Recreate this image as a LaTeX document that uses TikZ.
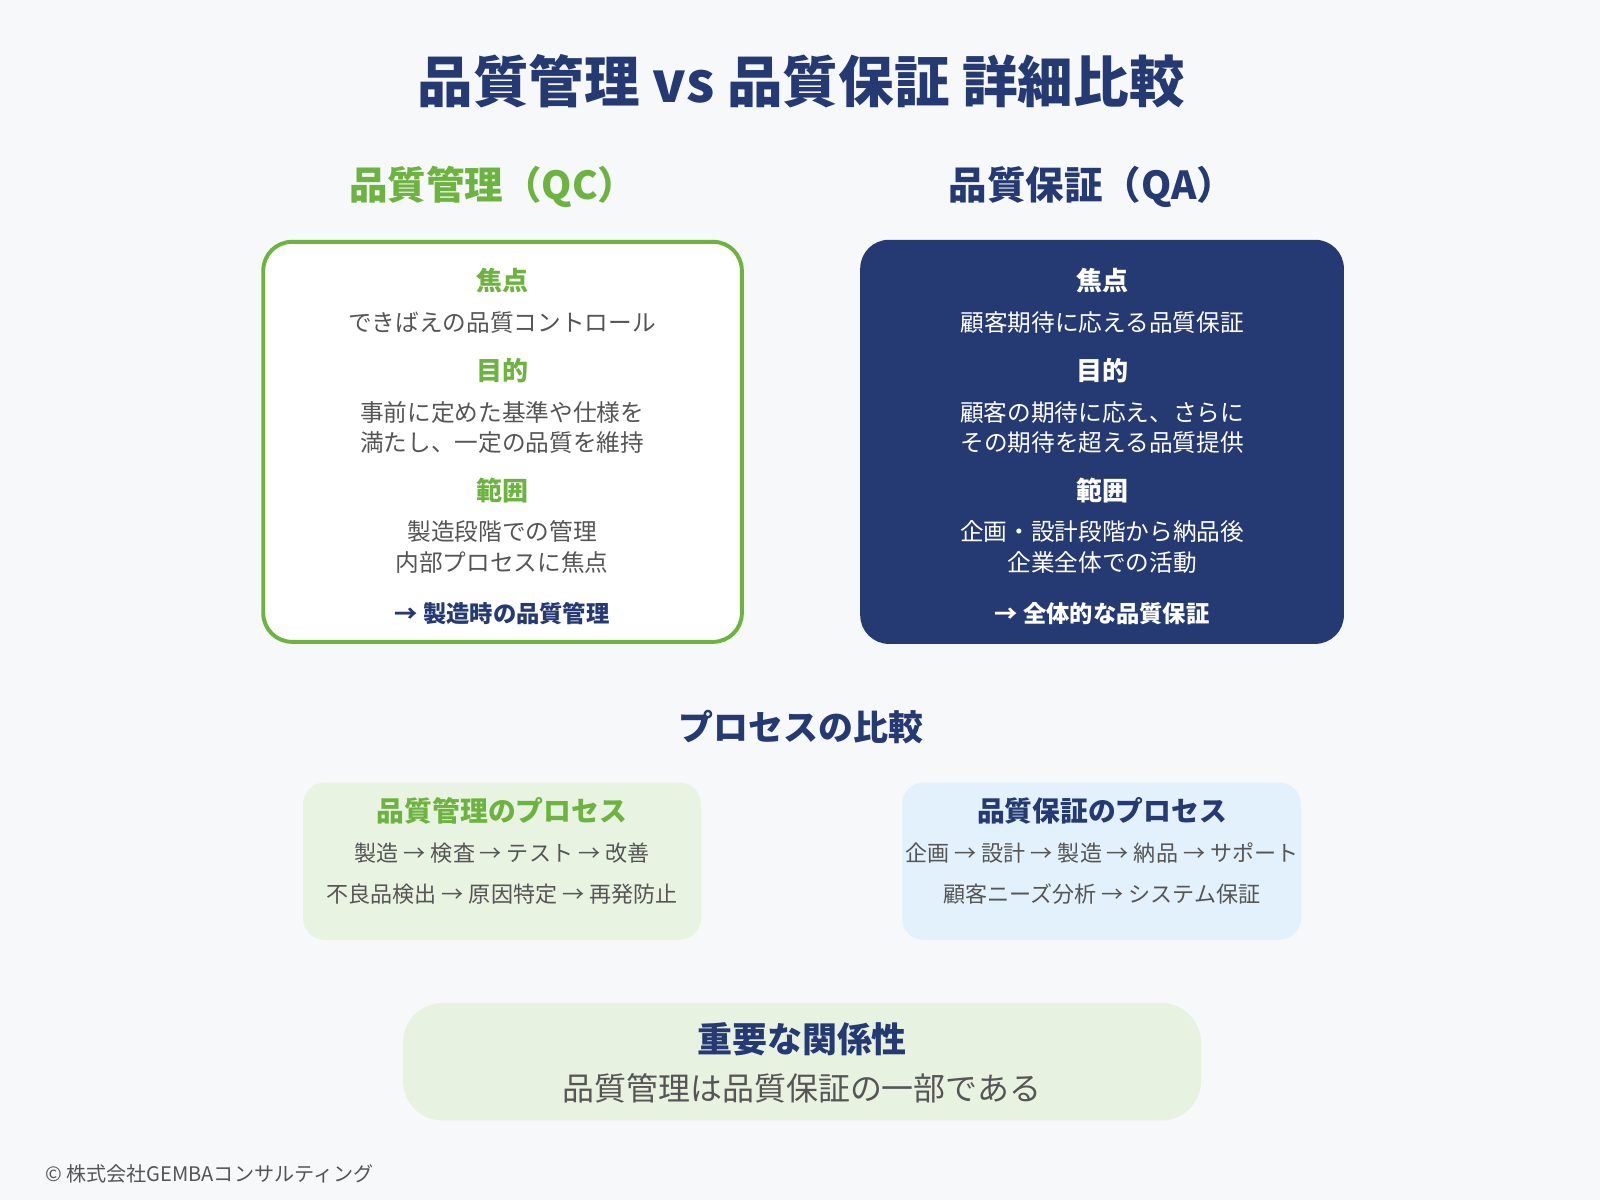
\documentclass[tikz,border=0pt]{standalone}
\usepackage{fontspec}
\setmainfont{Noto Sans CJK JP}
\definecolor{navy}{HTML}{253A73}
\definecolor{qcgreen}{HTML}{6DB33F}
\definecolor{txtgray}{HTML}{555555}
\definecolor{bg}{HTML}{F6F8FA}
\definecolor{lgreen}{HTML}{E8F3E2}
\definecolor{lblue}{HTML}{E2F1FB}
\definecolor{lrel}{HTML}{E8F2E1}
\begin{document}
\begin{tikzpicture}[x=0.02cm,y=-0.02cm,
  lbl/.style={font=\fontsize{14.5}{16}\selectfont\bfseries},
  body/.style={font=\fontsize{13.2}{17}\selectfont,text=txtgray,align=center},
  ptitle/.style={font=\fontsize{15.5}{18}\selectfont\bfseries},
  pline/.style={font=\fontsize{12.3}{14}\selectfont,text=txtgray}]
\fill[bg] (0,0) rectangle (1568,1176);
\useasboundingbox (0,0) rectangle (1568,1176);
\node[font=\fontsize{31}{34}\selectfont\bfseries,text=navy] (title) at (785,80) {品質管理 vs 品質保証 詳細比較};
\node[font=\fontsize{21.5}{24}\selectfont\bfseries,text=qcgreen] (qch) at (483,183) {品質管理（QC）};
\node[font=\fontsize{21.5}{24}\selectfont\bfseries,text=navy] (qah) at (1070,183) {品質保証（QA）};
% QC box
\draw[qcgreen,line width=2.2pt,fill=white,rounded corners=16pt] (258,237) rectangle (727,629);
\node[lbl,text=qcgreen] (qc1) at (492,275) {焦点};
\node[body] (qc2) at (492,316) {できばえの品質コントロール};
\node[lbl,text=qcgreen] (qc3) at (492,363) {目的};
\node[body] (qc4) at (492,419) {事前に定めた基準や仕様を\\満たし、一定の品質を維持};
\node[lbl,text=qcgreen] (qc5) at (492,481) {範囲};
\node[body] (qc6) at (492,536) {製造段階での管理\\内部プロセスに焦点};
\node[font=\fontsize{13}{15}\selectfont\bfseries,text=navy] (qc7) at (492,601) {→ 製造時の品質管理};
% QA box
\fill[navy,rounded corners=16pt] (843,235) rectangle (1317,631);
\node[lbl,text=white] (qa1) at (1080,275) {焦点};
\node[body,text=white] (qa2) at (1080,316) {顧客期待に応える品質保証};
\node[lbl,text=white] (qa3) at (1080,363) {目的};
\node[body,text=white] (qa4) at (1080,419) {顧客の期待に応え、さらに\\その期待を超える品質提供};
\node[lbl,text=white] (qa5) at (1080,481) {範囲};
\node[body,text=white] (qa6) at (1080,536) {企画・設計段階から納品後\\企業全体での活動};
\node[font=\fontsize{13}{15}\selectfont\bfseries,text=white] (qa7) at (1080,601) {→ 全体的な品質保証};
% process
\node[font=\fontsize{19.5}{22}\selectfont\bfseries,text=navy] (proc) at (785,713) {プロセスの比較};
\fill[lgreen,rounded corners=12pt] (297,767) rectangle (687,921);
\node[ptitle,text=qcgreen] (p1) at (492,795) {品質管理のプロセス};
\node[pline] (p2) at (492,836) {製造 → 検査 → テスト → 改善};
\node[pline] (p3) at (492,876) {不良品検出 → 原因特定 → 再発防止};
\fill[lblue,rounded corners=12pt] (884,767) rectangle (1275,921);
\node[ptitle,text=navy] (q1) at (1080,795) {品質保証のプロセス};
\node[pline] (q2) at (1080,836) {企画 → 設計 → 製造 → 納品 → サポート};
\node[pline] (q3) at (1080,876) {顧客ニーズ分析 → システム保証};
% relation
\fill[lrel,rounded corners=22pt] (395,983) rectangle (1177,1098);
\node[font=\fontsize{19.5}{22}\selectfont\bfseries,text=navy] (r1) at (786,1018) {重要な関係性};
\node[font=\fontsize{17.8}{20}\selectfont,text=txtgray] (r2) at (786,1067) {品質管理は品質保証の一部である};
\node[anchor=west,font=\fontsize{11.2}{12}\selectfont,text=txtgray] (foot) at (38,1150) {© 株式会社GEMBAコンサルティング};
\end{tikzpicture}
\end{document}
